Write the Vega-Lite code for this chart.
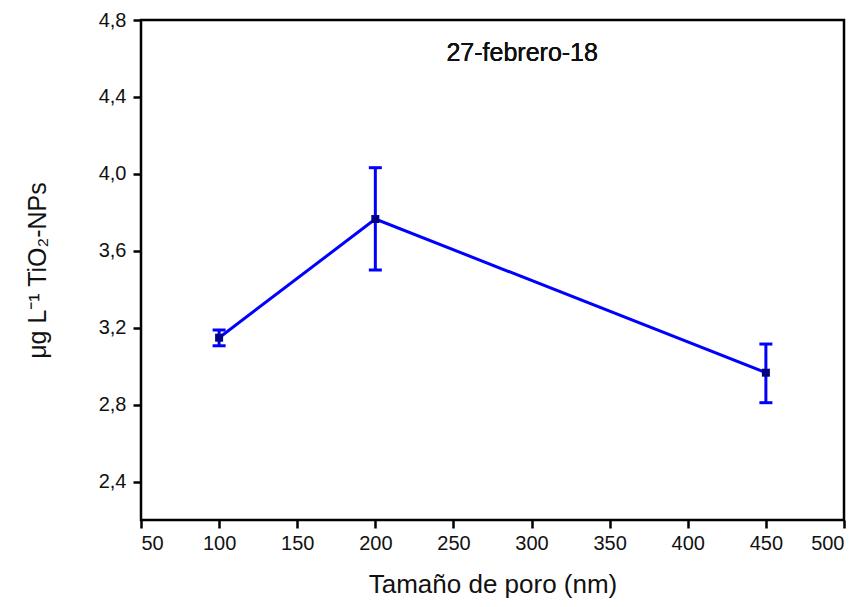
{
  "$schema": "https://vega.github.io/schema/vega-lite/v6.json",
  "width": 703,
  "height": 500,
  "autosize": {"type": "none"},
  "padding": {"left": 141, "top": 20, "right": 23, "bottom": 87},
  "background": "white",
  "config": {
    "font": "Liberation Sans",
    "view": {"stroke": "black", "strokeWidth": 2.5},
    "text": {"fontWeight": 400},
    "axis": {
      "grid": false,
      "domain": false,
      "tickColor": "black",
      "tickWidth": 2.5,
      "tickSize": 8,
      "labelFont": "Liberation Sans",
      "labelFontSize": 20,
      "labelColor": "#111",
      "titleFont": "Liberation Sans",
      "titleFontSize": 26,
      "titleFontWeight": "normal",
      "titleColor": "#111"
    }
  },
  "data": {
    "values": [
      {"poro": 100, "conc": 3.148, "lo": 3.106, "hi": 3.188},
      {"poro": 200, "conc": 3.765, "lo": 3.50, "hi": 4.032},
      {"poro": 450, "conc": 2.966, "lo": 2.810, "hi": 3.115}
    ]
  },
  "layer": [
    {
      "mark": {"type": "line", "color": "#0000FF", "strokeWidth": 3},
      "encoding": {
        "x": {
          "field": "poro", "type": "quantitative",
          "scale": {"domain": [50, 500], "nice": false},
          "axis": {"values": [50, 100, 150, 200, 250, 300, 350, 400, 450, 500], "title": "Tamaño de poro (nm)", "titlePadding": 18, "labelPadding": 5}
        },
        "y": {
          "field": "conc", "type": "quantitative",
          "scale": {"domain": [2.2, 4.8], "nice": false, "zero": false},
          "axis": {
            "values": [2.4, 2.8, 3.2, 3.6, 4.0, 4.4, 4.8],
            "labelExpr": "replace(format(datum.value, '.1f'), '.', ',')",
            "title": "μg L⁻¹ TiO₂-NPs",
            "titleFontSize": 25,
            "titlePadding": 48,
            "labelPadding": 7
          }
        }
      }
    },
    {
      "mark": {"type": "rule", "color": "#0000FF", "strokeWidth": 3},
      "encoding": {
        "x": {"field": "poro", "type": "quantitative"},
        "y": {"field": "lo", "type": "quantitative"},
        "y2": {"field": "hi"}
      }
    },
    {
      "mark": {"type": "tick", "color": "#0000FF", "orient": "horizontal", "size": 13, "thickness": 3, "opacity": 1},
      "encoding": {
        "x": {"field": "poro", "type": "quantitative"},
        "y": {"field": "lo", "type": "quantitative"}
      }
    },
    {
      "mark": {"type": "tick", "color": "#0000FF", "orient": "horizontal", "size": 13, "thickness": 3, "opacity": 1},
      "encoding": {
        "x": {"field": "poro", "type": "quantitative"},
        "y": {"field": "hi", "type": "quantitative"}
      }
    },
    {
      "mark": {"type": "square", "color": "#000080", "size": 64, "opacity": 1, "filled": true},
      "encoding": {
        "x": {"field": "poro", "type": "quantitative"},
        "y": {"field": "conc", "type": "quantitative"}
      }
    },
    {
      "mark": {"type": "text", "text": "27-febrero-18", "fontSize": 25, "fontWeight": 400, "font": "Liberation Sans", "fill": "#111", "align": "center", "baseline": "middle"},
      "encoding": {
        "x": {"datum": 294, "type": "quantitative"},
        "y": {"datum": 4.63, "type": "quantitative"}
      }
    }
  ]
}
